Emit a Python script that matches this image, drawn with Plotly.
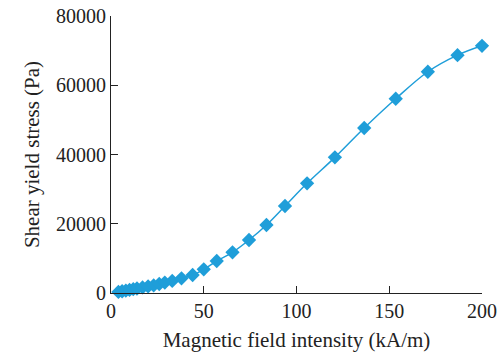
import plotly.graph_objects as go

field = [4, 6, 8, 10, 12, 14, 17, 20, 23, 26, 29, 33, 38, 44, 50, 57, 65.5, 74.4, 83.8, 93.8, 105.7, 120.7, 136.5, 153.5, 170.8, 186.8, 200]
stress = [300, 500, 700, 900, 1100, 1300, 1600, 1900, 2200, 2600, 3000, 3500, 4240, 5200, 6840, 9240, 11750, 15300, 19640, 25120, 31680, 39180, 47650, 56100, 63900, 68700, 71400]

x_ticks = [0, 50, 100, 150, 200]
y_ticks = [0, 20000, 40000, 60000, 80000]

color = "#1f9ed9"
font_family = "Liberation Serif"

fig = go.Figure(
    go.Scatter(
        x=field, y=stress, mode="lines+markers",
        line=dict(color=color, width=1.5, shape="spline"),
        marker=dict(symbol="diamond", size=11, color=color),
    )
)

axis_common = dict(
    showgrid=False, zeroline=False, showline=True, linecolor="#222", linewidth=1.2,
    ticks="inside", ticklen=7, tickcolor="#222", tickwidth=1.2,
    tickfont=dict(family=font_family, size=20, color="#222"),
    automargin=False,
)

fig.update_layout(
    width=504, height=357,
    margin=dict(l=111, r=22, t=16, b=64),
    paper_bgcolor="white", plot_bgcolor="white",
    showlegend=False,
    font=dict(family=font_family, color="#222"),
    xaxis=dict(range=[0, 200], tickvals=x_ticks, ticktext=[str(v) for v in x_ticks],
               title=dict(text="Magnetic field intensity (kA/m)", font=dict(size=21, family=font_family), standoff=11),
               **axis_common),
    yaxis=dict(range=[0, 80000], tickvals=y_ticks, ticktext=[str(v) for v in y_ticks],
               title=dict(text="Shear yield stress (Pa)", font=dict(size=21, family=font_family), standoff=10),
               **axis_common),
)
fig.update_traces(cliponaxis=False)

fig.write_html("out.html", config={"displayModeBar": False},
               post_script="document.body.style.margin='0';")
